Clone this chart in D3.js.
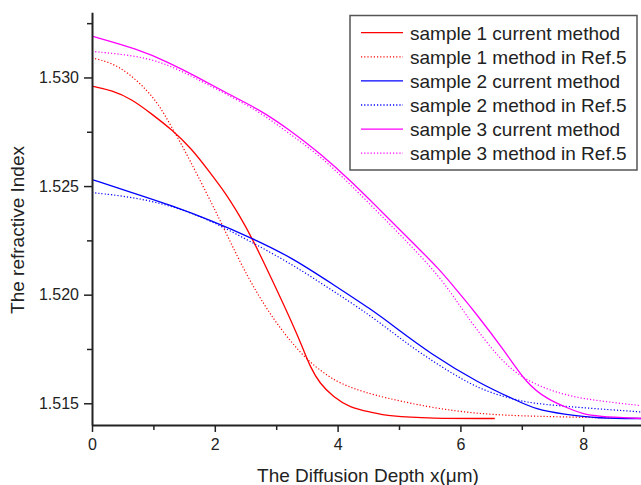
<!DOCTYPE html>
<html>
<head>
<meta charset="utf-8">
<script src="https://cdn.jsdelivr.net/npm/d3@7"></script>
<style>
  body { margin: 0; background: #fff; }
  svg text { font-family: "Liberation Sans", Arial, sans-serif; fill: #222; }
</style>
</head>
<body>
<svg id="chart" width="641" height="485"></svg>
<script>
// values (x in um, y = refractive index)
const sample1Current = [[0, 1.5296], [0.33, 1.5294], [0.65, 1.5290], [0.98, 1.5283], [1.3, 1.5276], [1.63, 1.5267],
  [1.9, 1.5257], [2.17, 1.5247], [2.39, 1.5237], [2.61, 1.5226], [2.93, 1.5207], [3.26, 1.5187], [3.44, 1.5175],
  [3.55, 1.5167], [3.71, 1.5159], [3.93, 1.5153], [4.2, 1.5148], [4.53, 1.5146], [4.85, 1.5144], [5.5, 1.5143], [6.56, 1.5143]]
const sample1Ref = [[0, 1.5309], [0.3, 1.5307], [0.6, 1.5302], [0.9, 1.5294], [1.1, 1.5287], [1.3, 1.5277],
  [1.5, 1.5267], [1.7, 1.5256], [1.95, 1.5242], [2.14, 1.5231], [2.41, 1.5215], [2.68, 1.5201], [2.95, 1.5189],
  [3.22, 1.5179], [3.5, 1.5170], [3.77, 1.5164], [4.04, 1.5159], [4.53, 1.5154], [5.5, 1.5148], [6.32, 1.5145],
  [7.13, 1.5144], [8.92, 1.5143]]
const sample2Current = [[0, 1.5253], [0.65, 1.5247], [1.3, 1.5241], [1.95, 1.5234], [2.61, 1.5226], [3.26, 1.5217],
  [3.91, 1.5205], [4.56, 1.5193], [4.89, 1.5186], [5.5, 1.5173], [6.32, 1.5159], [6.86, 1.5152], [7.24, 1.5147],
  [7.68, 1.5145], [8.22, 1.5143], [9, 1.5143]]
const sample2Ref = [[0, 1.5247], [0.65, 1.5245], [1.3, 1.5241], [1.95, 1.5234], [2.61, 1.5224], [3.26, 1.5214],
  [3.91, 1.5202], [4.56, 1.5190], [5.1, 1.5178], [5.67, 1.5167], [6.33, 1.5156], [6.86, 1.5152], [7.14, 1.5150],
  [7.96, 1.5148], [8.95, 1.5146]]
const sample3Current = [[0, 1.5319], [0.75, 1.5313], [1.24, 1.5307], [1.73, 1.5300], [2.21, 1.52925], [2.74, 1.5285],
  [3.22, 1.52758], [3.71, 1.52651], [4.2, 1.52528], [4.69, 1.5239], [5.18, 1.52252], [5.67, 1.52114], [5.99, 1.52003],
  [6.21, 1.5193], [6.75, 1.5173], [7.08, 1.5159], [7.41, 1.5152], [7.73, 1.5148], [8.0, 1.5145], [8.22, 1.5144], [8.94, 1.5143]]
const sample3Ref = [[0, 1.5312], [0.75, 1.5310], [1.24, 1.5306], [1.73, 1.5299], [2.21, 1.5292], [2.74, 1.5284],
  [3.22, 1.5274], [3.71, 1.5264], [4.2, 1.5251], [4.69, 1.5237], [5.18, 1.5223], [5.67, 1.5208], [5.99, 1.5195],
  [6.21, 1.5186], [6.65, 1.5170], [7.03, 1.5161], [7.57, 1.51546], [8.11, 1.51515], [8.92, 1.5149]]

const seriesNames = ['sample 1 current method', 'sample 1 method in Ref.5', 'sample 2 current method',
  'sample 2 method in Ref.5', 'sample 3 current method', 'sample 3 method in Ref.5']
const seriesData = [sample1Current, sample1Ref, sample2Current, sample2Ref, sample3Current, sample3Ref]
const seriesColors = ['#ff0000', '#ff0000', '#0000ff', '#0000ff', '#ff00ff', '#ff00ff']
const seriesDotted = [false, true, false, true, false, true]

const xTicks = [0, 2, 4, 6, 8]
const xMinorTicks = [1, 3, 5, 7, 9]
const yTicks = [1.515, 1.520, 1.525, 1.530]
const yMinorTicks = [1.5175, 1.5225, 1.5275, 1.5325]

const margin = { left: 92, top: 12, right: 0, bottom: 60 }
const svg = d3.select('#chart')

const x = d3.scaleLinear().domain([0, 9]).range([margin.left, margin.left + 9 * 61.4])
const y = d3.scaleLinear().domain([1.514, 1.533]).range([425, 12.3])

// clip so curves stay in the plot area
svg.append('clipPath').attr('id', 'plotclip')
  .append('rect').attr('x', margin.left).attr('y', 0).attr('width', 641 - margin.left).attr('height', 425)

const line = d3.line()
  .x(d => x(d[0]))
  .y(d => y(d[1]))
  .curve(d3.curveBasis)

svg.append('g').attr('clip-path', 'url(#plotclip)')
  .selectAll('path')
  .data(seriesData)
  .join('path')
  .attr('d', line)
  .attr('fill', 'none')
  .attr('stroke', (d, i) => seriesColors[i])
  .attr('stroke-width', (d, i) => seriesDotted[i] ? 1.2 : 1.3)
  .attr('stroke-dasharray', (d, i) => seriesDotted[i] ? '1.2,2' : null)

// axes
const styleAxis = g => {
  g.select('.domain').attr('stroke', '#222').attr('stroke-width', 2)
  g.selectAll('.tick line').attr('stroke', '#222').attr('stroke-width', 1.5)
  g.selectAll('.tick text').attr('font-size', 16).attr('fill', '#222')
    .attr('font-family', '"Liberation Sans", Arial, sans-serif')
}

svg.append('g')
  .attr('transform', 'translate(0,425)')
  .call(d3.axisBottom(x).tickValues(xMinorTicks).tickSize(5).tickFormat(''))
  .call(g => g.select('.domain').remove())
  .call(styleAxis)

svg.append('g')
  .attr('transform', 'translate(0,425)')
  .call(d3.axisBottom(x).tickValues(xTicks).tickSize(7).tickSizeOuter(0).tickPadding(7).tickFormat(d3.format('d')))
  .call(styleAxis)

svg.append('g')
  .attr('transform', `translate(${margin.left},0)`)
  .call(d3.axisLeft(y).tickValues(yMinorTicks).tickSize(5).tickFormat(''))
  .call(g => g.select('.domain').remove())
  .call(styleAxis)

svg.append('g')
  .attr('transform', `translate(${margin.left},0)`)
  .call(d3.axisLeft(y).tickValues(yTicks).tickSize(8).tickSizeOuter(0).tickPadding(5).tickFormat(d3.format('.3f')))
  .call(styleAxis)

// axis titles
svg.append('text')
  .attr('x', 368).attr('y', 482)
  .attr('text-anchor', 'middle')
  .attr('font-size', 19)
  .text('The Diffusion Depth x(\u03bcm)')

svg.append('text')
  .attr('transform', 'translate(24,230) rotate(-90)')
  .attr('text-anchor', 'middle')
  .attr('font-size', 19)
  .text('The refractive Index')

// legend
const legend = svg.append('g')
legend.append('rect')
  .attr('x', 350).attr('y', 15.5).attr('width', 287).attr('height', 154.5)
  .attr('fill', '#fff').attr('stroke', '#555').attr('stroke-width', 1.5)

seriesNames.forEach((name, i) => {
  const ly = 32.7 + i * 24.1
  legend.append('line')
    .attr('x1', 361).attr('x2', 403).attr('y1', ly).attr('y2', ly)
    .attr('stroke', seriesColors[i])
    .attr('stroke-width', 1.3)
    .attr('stroke-dasharray', seriesDotted[i] ? '1.2,2' : null)
  legend.append('text')
    .attr('x', 410).attr('y', ly + 6.8)
    .attr('font-size', 19)
    .text(name)
})
</script>
</body>
</html>
